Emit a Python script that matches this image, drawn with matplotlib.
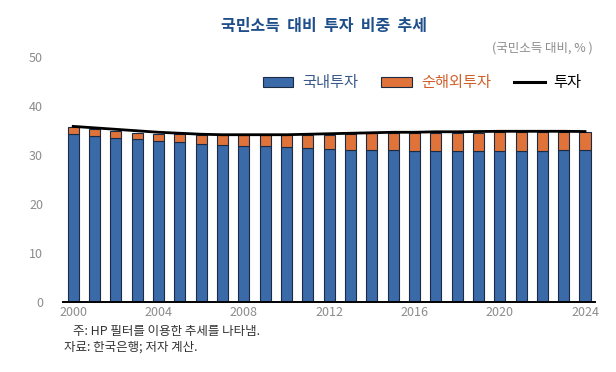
import numpy as np
import matplotlib
matplotlib.use("Agg")
import matplotlib.pyplot as plt
from matplotlib.patches import Patch
from matplotlib.lines import Line2D

plt.rcParams['font.family'] = ['Noto Sans CJK KR', 'DejaVu Sans']

years = list(range(2000, 2025))
domestic = [34.2, 33.8, 33.4, 33.2, 32.8, 32.6, 32.3, 32.1, 31.9, 31.7, 31.5, 31.3, 31.1,
            31.0, 30.9, 30.9, 30.85, 30.85, 30.85, 30.85, 30.85, 30.85, 30.85, 30.9, 30.9]
net_foreign = [1.4, 1.4, 1.4, 1.3, 1.5, 1.6, 1.7, 1.9, 2.1, 2.3, 2.5, 2.7, 2.9,
               3.2, 3.5, 3.5, 3.6, 3.6, 3.7, 3.7, 3.8, 3.8, 3.8, 3.8, 3.8]
total = [35.8, 35.5, 35.2, 34.9, 34.6, 34.4, 34.2, 34.1, 34.1, 34.1, 34.1, 34.2, 34.3,
         34.4, 34.5, 34.6, 34.6, 34.7, 34.7, 34.75, 34.8, 34.8, 34.8, 34.8, 34.75]
xticks = [2000, 2004, 2008, 2012, 2016, 2020, 2024]
yticks = [0, 10, 20, 30, 40, 50]

blue = '#3b6aa8'
orange = '#e0733a'
edge = '#1c2b45'
grey = '#8c8c8c'

fig = plt.figure(figsize=(6.16, 3.72), dpi=100)
ax = fig.add_axes([0.1015, 0.188, 0.8645, 0.6596])

ax.bar(years, domestic, width=0.52, color=blue, edgecolor=edge, linewidth=0.8)
ax.bar(years, net_foreign, width=0.52, bottom=domestic, color=orange, edgecolor=edge, linewidth=0.8)
ax.plot(years, total, color='black', lw=2.0)

ax.set_xlim(1999.5, 2024.47)
ax.set_ylim(0, 50)
ax.set_xticks(xticks)
ax.set_yticks(yticks)
ax.tick_params(axis='both', length=0, labelsize=9, colors=grey)
ax.tick_params(axis='y', pad=14)
ax.tick_params(axis='x', pad=3)
for s in ['left', 'right', 'top']:
    ax.spines[s].set_visible(False)
ax.spines['bottom'].set_color('black')
ax.spines['bottom'].set_linewidth(1.4)

handles = [Patch(facecolor=blue, edgecolor=edge, linewidth=0.8),
           Patch(facecolor=orange, edgecolor=edge, linewidth=0.8),
           Line2D([0], [0], color='black', lw=2.2)]
leg = ax.legend(handles, ['국내투자', '순해외투자', '투자'], ncol=3, frameon=False,
                loc='center right', bbox_to_anchor=(0.975, 0.893), fontsize=11,
                handlelength=2.0, handleheight=0.7, handletextpad=0.6,
                columnspacing=1.5, borderpad=0, borderaxespad=0)
for t, c in zip(leg.get_texts(), ['#3a5a8c', '#d0602a', 'black']):
    t.set_color(c)

fig.text(0.526, 0.929, '국민소득  대비  투자  비중  추세', ha='center', va='center',
         fontsize=11.5, fontweight='bold', color='#1f4f8a')
fig.text(0.962, 0.871, '(국민소득 대비, % )', ha='right', va='center',
         fontsize=9, color=grey)
fig.text(0.118, 0.108, '주: HP 필터를 이용한 추세를 나타냄.', ha='left', va='center',
         fontsize=9, color='#333333')
fig.text(0.104, 0.066, '자료: 한국은행; 저자 계산.', ha='left', va='center',
         fontsize=9, color='#333333')

fig.savefig('out.png', dpi=100)
